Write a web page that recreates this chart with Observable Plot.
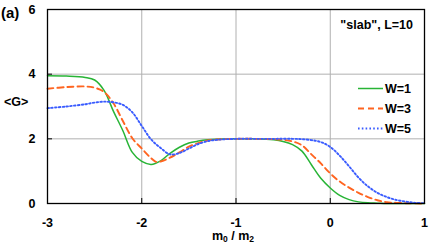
<!DOCTYPE html>
<html><head><meta charset="utf-8">
<script src="https://cdn.jsdelivr.net/npm/d3@7"></script>
<script src="https://cdn.jsdelivr.net/npm/@observablehq/plot@0.6"></script>
<style>body{margin:0;background:#fff}svg{display:block}</style>
</head><body><div id="chart"></div>
<script>
const xTicks = [-3, -2, -1, 0, 1];
const yTicks = [0, 2, 4, 6];
const seriesNames = ["W=1", "W=3", "W=5"];
const seriesColors = ["#28b436", "#ff6420", "#3a5cff"];
const seriesDash = [null, "6,4", "1.6,2.2"];

const x_W1 = [-3, -2.8, -2.6, -2.5, -2.4, -2.3, -2.2, -2.1, -2.0, -1.9, -1.8, -1.7, -1.6, -1.5, -1.4, -1.3, -1.2, -1.0, -0.8, -0.6, -0.5, -0.4, -0.3, -0.2, -0.1, 0, 0.1, 0.2, 0.3, 0.4, 0.5, 0.6, 0.8, 1.0];
const y_W1 = [3.95, 3.94, 3.9, 3.82, 3.5, 2.85, 2.25, 1.58, 1.3, 1.21, 1.32, 1.55, 1.74, 1.87, 1.93, 1.97, 1.99, 2.0, 2.0, 1.97, 1.92, 1.82, 1.62, 1.2, 0.78, 0.48, 0.25, 0.12, 0.05, 0.02, 0.01, 0.0, 0.0, 0.0];

const x_W3 = [-3, -2.8, -2.6, -2.5, -2.4, -2.3, -2.2, -2.1, -2.0, -1.9, -1.85, -1.8, -1.7, -1.6, -1.5, -1.4, -1.3, -1.2, -1.0, -0.8, -0.6, -0.5, -0.4, -0.3, -0.2, -0.1, 0, 0.1, 0.2, 0.3, 0.4, 0.5, 0.6, 0.7, 0.8, 1.0];
const y_W3 = [3.55, 3.6, 3.62, 3.58, 3.45, 3.1, 2.55, 2.02, 1.7, 1.4, 1.29, 1.3, 1.42, 1.58, 1.76, 1.87, 1.95, 1.98, 2.0, 2.0, 1.99, 1.97, 1.92, 1.8, 1.52, 1.24, 0.93, 0.68, 0.49, 0.33, 0.2, 0.1, 0.04, 0.02, 0.01, 0.0];

const x_W5 = [-3, -2.8, -2.6, -2.5, -2.4, -2.3, -2.2, -2.1, -2.0, -1.9, -1.8, -1.7, -1.6, -1.5, -1.4, -1.3, -1.2, -1.0, -0.8, -0.6, -0.4, -0.3, -0.2, -0.1, 0, 0.1, 0.2, 0.3, 0.4, 0.5, 0.6, 0.7, 0.8, 0.9, 1.0];
const y_W5 = [2.95, 3.0, 3.07, 3.12, 3.15, 3.13, 3.05, 2.82, 2.4, 1.98, 1.72, 1.52, 1.56, 1.7, 1.84, 1.93, 1.97, 2.0, 2.0, 2.0, 2.0, 1.99, 1.96, 1.9, 1.75, 1.48, 1.15, 0.8, 0.53, 0.33, 0.2, 0.11, 0.06, 0.02, 0.01];

const xs = [x_W1, x_W3, x_W5];
const ys = [y_W1, y_W3, y_W5];
const data = seriesNames.flatMap((s, i) => xs[i].map((x, j) => ({series: s, x, y: ys[i][j]})));

const W = 436, H = 246, mL = 47, mR = 12, mT = 9, mB = 43;
const font = "'Liberation Sans', Arial, Helvetica, sans-serif";
const fs = 12.5;

const lineMarks = seriesNames.map((s, i) => Plot.line(data.filter(d => d.series === s), {
  x: "x", y: "y", curve: "catmull-rom", stroke: seriesColors[i],
  strokeWidth: i === 0 ? 1.5 : 1.9, strokeDasharray: seriesDash[i]
}));

const fmt = d => String(d).replace("\u2212", "-");

const chart = Plot.plot({
  width: W, height: H,
  marginLeft: mL, marginRight: mR, marginTop: mT, marginBottom: mB,
  style: {fontFamily: font, fontSize: fs + "px", fontWeight: "bold", color: "#000", background: "#fff"},
  x: {domain: [-3, 1]},
  y: {domain: [0, 6]},
  marks: [
    Plot.ruleX(xTicks.slice(1, -1), {x: d => d, stroke: "#b0b0b0", strokeWidth: 1, strokeOpacity: 1}),
    Plot.ruleY(yTicks.slice(1, -1), {y: d => d, stroke: "#b0b0b0", strokeWidth: 1, strokeOpacity: 1}),
    ...lineMarks,
    Plot.ruleX(xTicks, {x: d => d, stroke: "#000", insetTop: H - mT - mB - 5}),
    Plot.ruleY(yTicks, {y: d => d, stroke: "#000", insetRight: W - mL - mR - 5}),
    Plot.frame({stroke: "#000", strokeWidth: 1.3}),
    Plot.axisX({ticks: xTicks, tickSize: 0, tickPadding: 14.5, label: null, tickFormat: fmt}),
    Plot.axisY({ticks: yTicks, tickSize: 0, tickPadding: 12, label: null, tickFormat: fmt})
  ]
});
document.getElementById("chart").appendChild(chart);

const svg = d3.select(chart);
const g = svg.append("g").attr("font-family", font).attr("font-weight", "bold")
  .attr("fill", "#000").attr("text-anchor", "start");

g.append("text").attr("x", 1).attr("y", 18).attr("font-size", 15).text("(a)");
g.append("text").attr("x", 4).attr("y", 106).attr("font-size", fs).text("<G>");
g.append("text").attr("x", 413).attr("y", 28.5).attr("font-size", fs).attr("text-anchor", "end").text("\"slab\", L=10");

const xl = g.append("text").attr("x", 233).attr("y", 239.5).attr("font-size", fs).attr("text-anchor", "middle");
xl.append("tspan").text("m");
xl.append("tspan").attr("font-size", 8.5).attr("dy", 2.5).text("0");
xl.append("tspan").attr("dy", -2.5).text(" / m");
xl.append("tspan").attr("font-size", 8.5).attr("dy", 2.5).text("2");

const legY = [88.5, 108.5, 128.5];
seriesNames.forEach((s, i) => {
  g.append("line").attr("x1", 358).attr("x2", 383).attr("y1", legY[i]).attr("y2", legY[i])
    .attr("stroke", seriesColors[i]).attr("stroke-width", i === 0 ? 1.5 : 1.9)
    .attr("stroke-dasharray", seriesDash[i]);
  g.append("text").attr("x", 385).attr("y", legY[i] + 4.5).attr("font-size", fs).text(s);
});
</script></body></html>
